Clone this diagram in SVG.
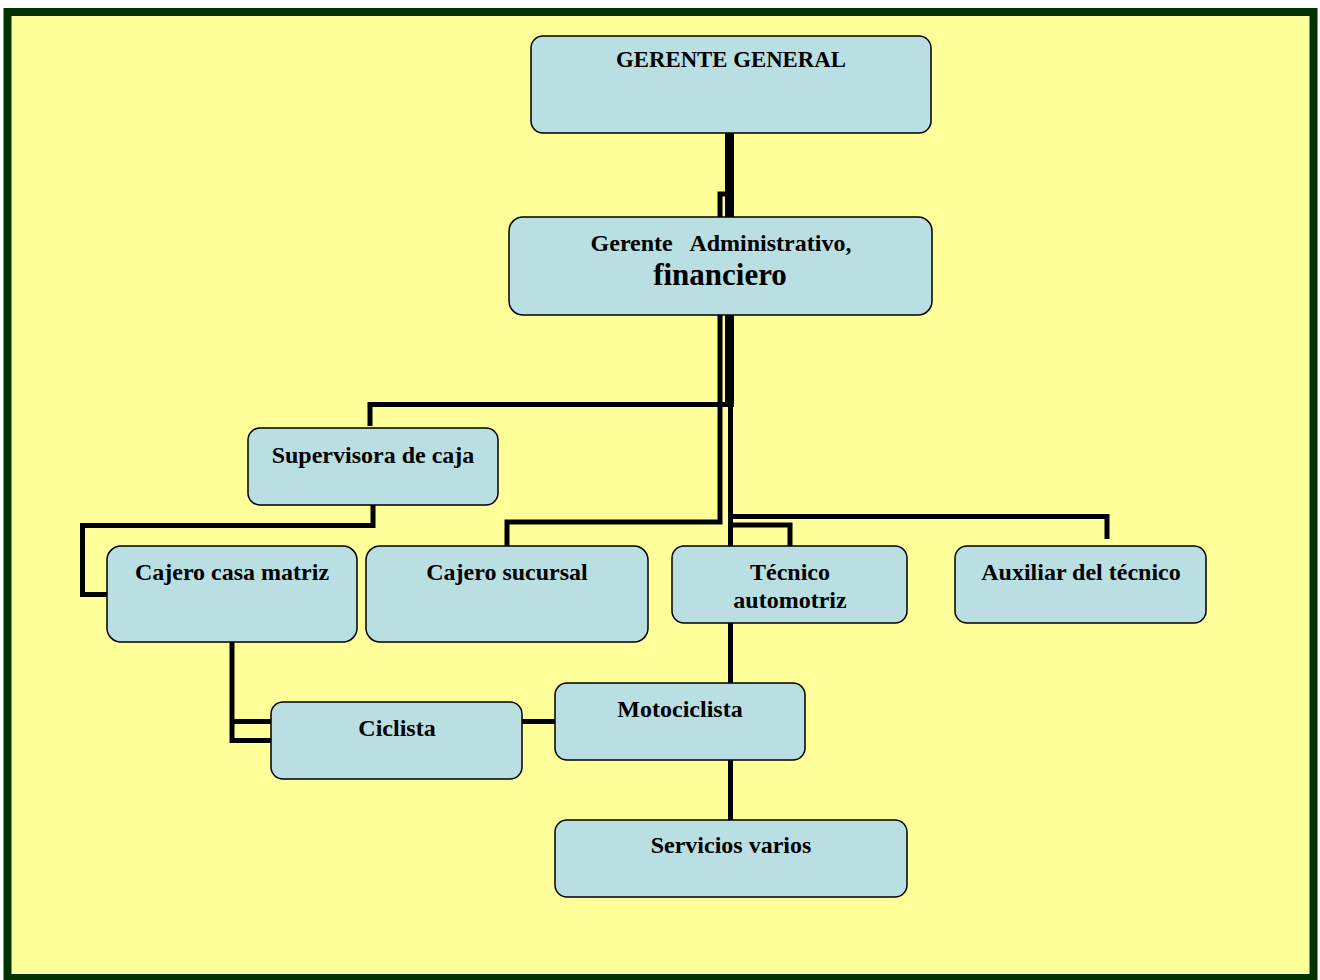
<svg xmlns="http://www.w3.org/2000/svg" width="1320" height="980" viewBox="0 0 1320 980">
<style>
.box{fill:#B9DFE3;stroke:#000;stroke-width:1.5}
.t{font-family:"Liberation Serif","Times New Roman",serif;font-weight:bold;font-size:24px;fill:#000;text-anchor:middle}
.c{fill:none;stroke:#000;stroke-width:5;stroke-linejoin:miter}
.ck{fill:none;stroke:#000;stroke-width:9}
</style>
<rect x="0" y="0" width="1320" height="980" fill="#fff"/>
<rect x="7.5" y="12" width="1306" height="966" fill="#FFFF99" stroke="#003300" stroke-width="8"/>
<g id="connectors">
<line class="ck" x1="729.5" y1="133" x2="729.5" y2="218"/>
<polyline class="c" points="720,218 720,194 727,194"/>
<line class="ck" x1="729.5" y1="315" x2="729.5" y2="407"/>
<line class="c" x1="730.5" y1="405" x2="730.5" y2="546"/>
<polyline class="c" points="720,315 720,522 507,522 507,546"/>
<polyline class="c" points="728,404.5 370,404.5 370,426"/>
<polyline class="c" points="373,505 373,525.5 82.5,525.5 82.5,594.5 107,594.5"/>
<polyline class="c" points="731,516.5 1107,516.5 1107,539"/>
<polyline class="c" points="731,525 790,525 790,546"/>
<line class="c" x1="730.5" y1="623" x2="730.5" y2="683"/>
<line class="c" x1="730.5" y1="760" x2="730.5" y2="820"/>
<polyline class="c" points="271,740.5 232,740.5 232,642"/>
<line class="c" x1="232" y1="721.5" x2="271" y2="721.5"/>
<line class="c" x1="522" y1="721.5" x2="555" y2="721.5"/>
</g>
<g id="gerente-general">
<rect class="box" x="531" y="36" width="400" height="97" rx="12"/>
<text class="t" x="731" y="67" style="font-size:22.8px">GERENTE GENERAL</text>
</g>
<g id="gerente-administrativo">
<rect class="box" x="509" y="217" width="423" height="98" rx="14"/>
<text class="t" x="721" y="251" xml:space="preserve">Gerente   Administrativo,</text>
<text class="t" x="720" y="285" style="font-size:31px">financiero</text>
</g>
<g id="supervisora">
<rect class="box" x="248" y="428" width="250" height="77" rx="12"/>
<text class="t" x="373" y="463">Supervisora de caja</text>
</g>
<g id="cajero-casa-matriz">
<rect class="box" x="107" y="546" width="250" height="96" rx="14"/>
<text class="t" x="232" y="580">Cajero casa matriz</text>
</g>
<g id="cajero-sucursal">
<rect class="box" x="366" y="546" width="282" height="96" rx="14"/>
<text class="t" x="507" y="580">Cajero sucursal</text>
</g>
<g id="tecnico">
<rect class="box" x="672" y="546" width="235" height="77" rx="12"/>
<text class="t" x="790" y="580">Técnico</text>
<text class="t" x="790" y="608">automotriz</text>
</g>
<g id="auxiliar">
<rect class="box" x="955" y="546" width="251" height="77" rx="12"/>
<text class="t" x="1081" y="580">Auxiliar del técnico</text>
</g>
<g id="motociclista">
<rect class="box" x="555" y="683" width="250" height="77" rx="12"/>
<text class="t" x="680" y="717">Motociclista</text>
</g>
<g id="ciclista">
<rect class="box" x="271" y="702" width="251" height="77" rx="12"/>
<text class="t" x="397" y="736">Ciclista</text>
</g>
<g id="servicios-varios">
<rect class="box" x="555" y="820" width="352" height="77" rx="12"/>
<text class="t" x="731" y="853">Servicios varios</text>
</g>
</svg>
